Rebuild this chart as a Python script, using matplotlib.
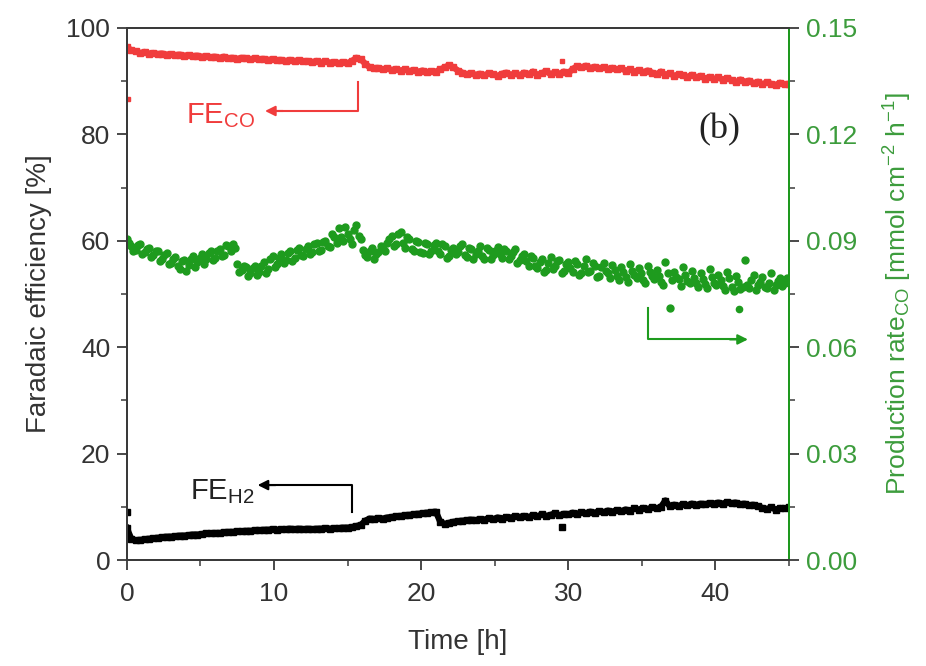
import numpy as np
import matplotlib
matplotlib.use("Agg")
import matplotlib.pyplot as plt
from matplotlib.ticker import MultipleLocator, FormatStrFormatter

plt.rcParams['font.family'] = ['Liberation Sans', 'DejaVu Sans']
plt.rcParams['mathtext.fontset'] = 'custom'
plt.rcParams['mathtext.rm'] = 'Liberation Sans'
plt.rcParams['mathtext.it'] = 'Liberation Sans:italic'

# sampling grid of the measurement (h)
time = np.arange(0, 45.01, 0.3)
time_b = time[:-1] + 0.15

fe_co = [96.4, 95.8, 95.6, 95.3, 95.5, 95.2, 95.3, 95.1, 95.2, 95.0,
         95.1, 94.9, 95.0, 94.8, 94.9, 94.7, 94.8, 94.6, 94.7, 94.5,
         94.6, 94.4, 94.6, 94.3, 94.4, 94.2, 94.4, 94.3, 94.1, 94.3,
         94.1, 94.2, 94.0, 94.1, 93.9, 94.0, 93.8, 94.0, 93.8, 93.9,
         93.7, 93.8, 93.6, 93.8, 93.5, 93.7, 93.5, 93.6, 93.4, 93.6,
         93.4, 93.8, 94.4, 94.1, 93.3, 92.6, 92.4, 92.5, 92.2, 92.4,
         92.1, 92.3, 92.0, 92.2, 91.9, 92.1, 91.8, 92.0, 91.7, 91.9,
         91.8, 92.2, 92.6, 93.0, 92.6, 92.0, 91.6, 91.3, 91.5, 91.2,
         91.4, 91.1, 91.5, 91.3, 91.0, 91.4, 91.6, 91.2, 91.5, 91.1,
         91.6, 91.3, 91.8, 91.2, 91.5, 91.9, 91.3, 91.7, 91.4, 91.8,
         91.5, 92.3, 92.8, 92.6, 92.9, 92.5, 92.7, 92.4, 92.6, 92.3,
         92.5, 92.2, 92.4, 92.0, 92.2, 91.8, 92.1, 91.7, 92.0, 91.6,
         91.3, 91.8, 91.2, 91.5, 91.0, 91.3, 91.1, 90.8, 91.2, 90.7,
         91.0, 90.5, 90.8, 90.4, 90.7, 90.3, 90.6, 90.2, 89.8, 90.3,
         89.9, 90.1, 89.6, 89.9, 89.4, 89.8, 89.5, 89.3, 89.7, 89.4,
         89.5]

fe_h2 = [6.0, 4.0, 3.7, 3.8, 3.9, 4.0, 4.1, 4.2, 4.3, 4.4,
         4.4, 4.5, 4.6, 4.6, 4.7, 4.8, 4.8, 4.9, 5.0, 5.0,
         5.1, 5.1, 5.2, 5.3, 5.3, 5.4, 5.4, 5.5, 5.5, 5.6,
         5.6, 5.7, 5.7, 5.8, 5.7, 5.8, 5.8, 5.9, 5.8, 5.9,
         5.8, 5.9, 5.8, 5.9, 5.9, 6.0, 5.9, 6.0, 6.0, 6.1,
         6.1, 6.2, 6.4, 6.6, 7.4, 7.8, 7.7, 7.9, 7.8, 8.0,
         8.1, 8.2, 8.3, 8.4, 8.5, 8.6, 8.7, 8.8, 8.9, 9.0,
         9.1, 7.2, 6.8, 7.0, 7.2, 7.3, 7.4, 7.5, 7.6, 7.5,
         7.7, 7.6, 7.9, 7.7, 8.0, 7.8, 8.1, 8.0, 8.2, 8.1,
         8.3, 8.1, 8.4, 8.2, 8.6, 8.3, 8.5, 8.8, 8.4, 8.7,
         8.6, 8.9, 8.7, 9.0, 8.8, 9.1, 8.9, 9.2, 9.0, 9.3,
         9.1, 9.4, 9.2, 9.5, 9.3, 9.7, 9.5, 9.8, 9.6, 9.9,
         9.7, 10.0, 11.2, 10.1, 10.4, 10.2, 10.5, 10.3, 10.6, 10.4,
         10.6, 10.5, 10.7, 10.6, 10.8, 10.6, 10.9, 10.7, 10.8, 10.5,
         10.6, 10.3, 10.4, 10.1, 9.8, 9.6, 9.9, 9.5, 9.8, 9.7,
         9.9]

rate_co = [0.0905, 0.0885, 0.0875, 0.0892, 0.0868, 0.0880, 0.0860, 0.0872, 0.0850, 0.0866,
           0.0838, 0.0855, 0.0820, 0.0845, 0.0832, 0.0858, 0.0840, 0.0862, 0.0848, 0.0870,
           0.0852, 0.0878, 0.0860, 0.0885, 0.0890, 0.0835, 0.0818, 0.0825, 0.0808, 0.0830,
           0.0812, 0.0840, 0.0820, 0.0856, 0.0835, 0.0862, 0.0845, 0.0870, 0.0852, 0.0880,
           0.0858, 0.0885, 0.0868, 0.0895, 0.0875, 0.0900, 0.0882, 0.0910, 0.0935, 0.0900,
           0.0918, 0.0890, 0.0945, 0.0905, 0.0860, 0.0872, 0.0850, 0.0868, 0.0878, 0.0895,
           0.0915, 0.0890, 0.0925, 0.0880, 0.0905, 0.0872, 0.0898, 0.0865, 0.0890, 0.0872,
           0.0895, 0.0862, 0.0885, 0.0858, 0.0880, 0.0868, 0.0892, 0.0855, 0.0878, 0.0862,
           0.0885, 0.0850, 0.0875, 0.0860, 0.0882, 0.0852, 0.0870, 0.0858, 0.0878, 0.0845,
           0.0862, 0.0830, 0.0852, 0.0822, 0.0848, 0.0818, 0.0855, 0.0828, 0.0845, 0.0815,
           0.0840, 0.0812, 0.0835, 0.0808, 0.0848, 0.0815, 0.0830, 0.0802, 0.0838, 0.0810,
           0.0832, 0.0800, 0.0825, 0.0798, 0.0835, 0.0805, 0.0822, 0.0790, 0.0828, 0.0800,
           0.0818, 0.0785, 0.0840, 0.0710, 0.0812, 0.0792, 0.0825, 0.0788, 0.0815, 0.0780,
           0.0810, 0.0778, 0.0820, 0.0782, 0.0805, 0.0772, 0.0812, 0.0770, 0.0800, 0.0765,
           0.0845, 0.0768, 0.0805, 0.0775, 0.0798, 0.0768, 0.0808, 0.0775, 0.0795, 0.0782,
           0.0790]

# in-between samples of the production rate
rate_co_b = [0.0895, 0.0870, 0.0888, 0.0862, 0.0878, 0.0855, 0.0870, 0.0842, 0.0860, 0.0835,
             0.0850, 0.0828, 0.0842, 0.0815, 0.0848, 0.0825, 0.0852, 0.0835, 0.0866, 0.0845,
             0.0872, 0.0858, 0.0888, 0.0870, 0.0880, 0.0812, 0.0830, 0.0800, 0.0822, 0.0805,
             0.0828, 0.0808, 0.0848, 0.0825, 0.0852, 0.0838, 0.0865, 0.0842, 0.0875, 0.0860,
             0.0878, 0.0862, 0.0890, 0.0870, 0.0898, 0.0885, 0.0920, 0.0895, 0.0912, 0.0940,
             0.0905, 0.0930, 0.0915, 0.0875, 0.0855, 0.0880, 0.0862, 0.0885, 0.0870, 0.0905,
             0.0885, 0.0920, 0.0895, 0.0910, 0.0878, 0.0900, 0.0868, 0.0895, 0.0862, 0.0888,
             0.0870, 0.0890, 0.0852, 0.0875, 0.0862, 0.0885, 0.0860, 0.0880, 0.0850, 0.0872,
             0.0858, 0.0880, 0.0848, 0.0872, 0.0862, 0.0878, 0.0848, 0.0868, 0.0838, 0.0858,
             0.0842, 0.0858, 0.0828, 0.0840, 0.0812, 0.0838, 0.0820, 0.0842, 0.0808, 0.0835,
             0.0822, 0.0842, 0.0805, 0.0828, 0.0812, 0.0838, 0.0798, 0.0825, 0.0815, 0.0795,
             0.0818, 0.0790, 0.0812, 0.0785, 0.0815, 0.0795, 0.0808, 0.0782, 0.0812, 0.0792,
             0.0802, 0.0775, 0.0808, 0.0790, 0.0798, 0.0772, 0.0805, 0.0780, 0.0795, 0.0770,
             0.0792, 0.0768, 0.0798, 0.0775, 0.0790, 0.0762, 0.0795, 0.0758, 0.0785, 0.0770,
             0.0775, 0.0790, 0.0762, 0.0785, 0.0770, 0.0780, 0.0760, 0.0788, 0.0772, 0.0795]

# single stray points
co_extra_t = [0.05, 29.6]
co_extra_v = [86.6, 93.7]
h2_extra_t = [0.0, 29.6]
h2_extra_v = [9.0, 6.3]
rate_extra_t = [41.6]
rate_extra_v = [0.0708]

RED = '#f03c3c'
GREEN = '#1e9b1e'
GTEXT = '#3c9c3c'
DARK = '#3a3a3a'

fig = plt.figure(figsize=(9.26, 6.66), dpi=100)
ax = fig.add_axes([0.137, 0.159, 0.715, 0.799])
ax2 = ax.twinx()

ax.plot(time, fe_co, color=RED, marker='s', ms=4, lw=4.5)
ax.plot(co_extra_t, co_extra_v, ls='none', color=RED, marker='s', ms=3.5)
ax.plot(time, fe_h2, color='black', marker='s', ms=4, lw=4.5)
ax.plot(h2_extra_t, h2_extra_v, ls='none', color='black', marker='s', ms=4)
ax2.plot(time, rate_co, ls='none', color=GREEN, marker='o', ms=5)
ax2.plot(time_b, rate_co_b, ls='none', color=GREEN, marker='o', ms=5)
ax2.plot(rate_extra_t, rate_extra_v, ls='none', color=GREEN, marker='o', ms=4.5)

ax.set_xlim(0, 45)
ax.set_ylim(0, 100)
ax2.set_ylim(0, 0.15)
ax.xaxis.set_major_locator(MultipleLocator(10))
ax.xaxis.set_minor_locator(MultipleLocator(5))
ax.yaxis.set_major_locator(MultipleLocator(20))
ax.yaxis.set_minor_locator(MultipleLocator(10))
ax2.yaxis.set_major_locator(MultipleLocator(0.03))
ax2.yaxis.set_minor_locator(MultipleLocator(0.015))
ax2.yaxis.set_major_formatter(FormatStrFormatter('%.2f'))

for a in (ax, ax2):
    for s in a.spines.values():
        s.set_color(DARK)
        s.set_linewidth(1.4)
ax2.spines['right'].set_color(GREEN)

ax.tick_params(which='major', direction='out', length=7, width=1.3, colors=DARK,
               labelsize=19, labelcolor='#333333', pad=5)
ax.tick_params(axis='x', which='major', pad=9)
ax.tick_params(which='minor', direction='out', length=4, width=1.1, colors=DARK)
ax2.tick_params(which='major', direction='out', length=7, width=1.3, colors=DARK,
                labelsize=19, labelcolor=GTEXT, pad=5)
ax2.tick_params(which='minor', direction='out', length=4, width=1.1, colors=DARK)

ax.set_xlabel('Time [h]', fontsize=20, color='#333333', labelpad=16)
ax.set_ylabel('Faradaic efficiency [%]', fontsize=20, color='#333333', labelpad=10)
ax2.set_ylabel(r'Production rate$_{\mathrm{CO}}$ [mmol cm$^{-2}$ h$^{-1}$]',
               fontsize=19, color=GTEXT, labelpad=18)

# pointer arrows to the axes
ax.plot([15.7, 15.7, 9.9], [89.8, 84.4, 84.4], color=RED, lw=1.5)
ax.annotate('', xy=(9.2, 84.4), xytext=(10.8, 84.4),
            arrowprops=dict(arrowstyle='-|>', color=RED, lw=1.5, mutation_scale=15))
ax.text(4.0, 83.5, r'FE$_{\mathrm{CO}}$', color=RED, fontsize=21, va='center')

ax.plot([15.3, 15.3, 9.4], [9.0, 14.1, 14.1], color='black', lw=1.5)
ax.annotate('', xy=(8.7, 14.1), xytext=(10.3, 14.1),
            arrowprops=dict(arrowstyle='-|>', color='black', lw=1.5, mutation_scale=15))
ax.text(4.3, 12.8, r'FE$_{\mathrm{H2}}$', color='#222222', fontsize=21, va='center')

ax2.plot([35.4, 35.4, 41.7], [0.0712, 0.0622, 0.0622], color=GREEN, lw=1.5)
ax2.annotate('', xy=(42.4, 0.0622), xytext=(40.8, 0.0622),
             arrowprops=dict(arrowstyle='-|>', color=GREEN, lw=1.5, mutation_scale=15))

ax.text(40.3, 80.8, '(b)', family=['Liberation Serif', 'DejaVu Serif'], fontsize=26,
        color='#222222', ha='center', va='center')

fig.savefig('out.png', dpi=100)
